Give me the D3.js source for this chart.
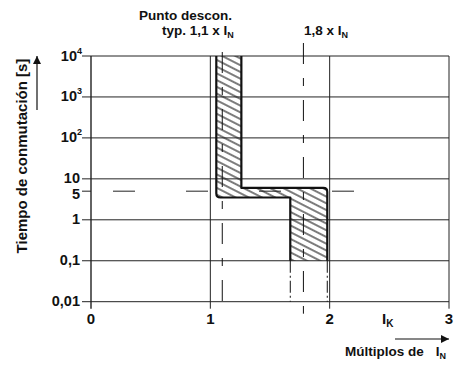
<!DOCTYPE html>
<html>
<head>
<meta charset="utf-8">
<script src="https://cdn.jsdelivr.net/npm/d3@7"></script>
<style>
	body { margin: 0; background: #fff; }
	text { font-family: "Liberation Sans", Arial, sans-serif; font-weight: bold; fill: #111; }
</style>
</head>
<body>
<div id="vis"></div>
<script>
const width = 462;
const height = 368;

// axis ticks
const xTicks = [0, 1, 2, 3];
const yTicks = [0.01, 0.1, 1, 10, 100, 1000, 10000];
const yTickLabels = ["0,01", "0,1", "1", "10", "10^2", "10^3", "10^4"];

// tripping band outline (multiples of I_N, seconds)
const bandX = [1.05, 1.05, 1.67, 1.67, 1.98, 1.98, 1.26, 1.26];
const bandY = [10000, 3.5, 3.5, 0.1, 0.1, 6, 6, 10000];
const roundedCorners = [1, 5]; // indices of rounded vertices

// reference lines
const markX = [1.1, 1.78];
const dashedTime = 5;
const bottomX = [1.67, 1.98];

const x = d3.scaleLinear().domain([0, 3]).range([91, 449]);
const y = d3.scaleLog().domain([0.01, 10000]).range([301.7, 56]);

const svg = d3.select("#vis")
	.append("svg")
	.attr("width", width)
	.attr("height", height);

const defs = svg.append("defs");
defs.append("pattern")
	.attr("id", "hatch")
	.attr("patternUnits", "userSpaceOnUse")
	.attr("width", 20)
	.attr("height", 6)
	.attr("patternTransform", "rotate(27)")
	.append("line")
		.attr("x1", 0).attr("y1", 3)
		.attr("x2", 20).attr("y2", 3)
		.attr("stroke", "#111")
		.attr("stroke-width", 1.1);

defs.append("marker")
	.attr("id", "arrow")
	.attr("viewBox", "0 0 10 10")
	.attr("refX", 10).attr("refY", 5)
	.attr("markerUnits", "userSpaceOnUse")
	.attr("markerWidth", 14).attr("markerHeight", 8)
	.attr("orient", "auto")
	.append("path")
		.attr("d", "M0,0L10,5L0,10Z")
		.attr("fill", "#111");

// hatched band
const pts = bandX.map((v, i) => [x(v), y(bandY[i])]);
function roundedPath(points, closed, offset) {
	let d = "";
	points.forEach((p, i) => {
		const k = i + (offset || 0);
		if (i === 0) { d += `M${p[0]},${p[1]}`; return; }
		if (roundedCorners.includes(k) && i < points.length - 1) {
			const prev = points[i - 1], next = points[i + 1];
			const r = 4;
			const dx1 = Math.sign(prev[0] - p[0]), dy1 = Math.sign(prev[1] - p[1]);
			const dx2 = Math.sign(next[0] - p[0]), dy2 = Math.sign(next[1] - p[1]);
			d += `L${p[0] + dx1 * r},${p[1] + dy1 * r}Q${p[0]},${p[1]} ${p[0] + dx2 * r},${p[1] + dy2 * r}`;
		} else {
			d += `L${p[0]},${p[1]}`;
		}
	});
	return closed ? d + "Z" : d;
}

svg.append("path")
	.attr("d", roundedPath(pts, true))
	.attr("fill", "url(#hatch)")
	.attr("stroke", "none");

// grid
const grid = svg.append("g").attr("stroke", "#222").attr("stroke-width", 1);
grid.selectAll("line.h")
	.data(yTicks)
	.enter()
	.append("line")
		.attr("x1", x(0) - 9).attr("x2", x(3))
		.attr("y1", d => y(d)).attr("y2", d => y(d));
grid.append("line")
	.attr("x1", x(0) - 9).attr("x2", x(0))
	.attr("y1", y(dashedTime)).attr("y2", y(dashedTime));
grid.selectAll("line.v")
	.data(xTicks)
	.enter()
	.append("line")
		.attr("x1", d => x(d)).attr("x2", d => x(d))
		.attr("y1", y(10000)).attr("y2", y(0.01) + 7)
		.attr("stroke-width", d => d === 0 ? 1.4 : 1);

// dashed 5 s line
svg.append("line")
	.attr("x1", x(0) - 9).attr("x2", x(2.52))
	.attr("y1", y(dashedTime)).attr("y2", y(dashedTime))
	.attr("stroke", "#222")
	.attr("stroke-dasharray", "0,31,22,20")
	.attr("stroke-width", 1);

// dashed continuation below band
svg.selectAll("line.bottom")
	.data(bottomX)
	.enter()
	.append("line")
		.attr("x1", d => x(d)).attr("x2", d => x(d))
		.attr("y1", y(0.1)).attr("y2", y(0.01))
		.attr("stroke", "#111")
		.attr("stroke-dasharray", "12,3,2,3")
		.attr("stroke-width", 1);

// dash-dot marker lines
svg.selectAll("line.mark")
	.data(markX)
	.enter()
	.append("line")
		.attr("x1", d => x(d)).attr("x2", d => x(d))
		.attr("y1", (d, i) => i === 0 ? y(10000) - 4 : y(10000) - 13)
		.attr("y2", y(0.01) + 12)
		.attr("stroke", "#111")
		.attr("stroke-dasharray", "21,14,8,14")
		.attr("stroke-width", 1);

// band outline (two open edges, top and bottom sit on grid lines)
svg.append("path")
	.attr("d", roundedPath(pts.slice(0, 4), false, 0) + roundedPath(pts.slice(4), false, 4))
	.attr("fill", "none")
	.attr("stroke", "#111")
	.attr("stroke-width", 2.2)
	.attr("stroke-linejoin", "round");

// y tick labels
const yl = svg.append("g").attr("font-size", 14.5).attr("text-anchor", "end");
yTicks.forEach((t, i) => {
	const lab = yTickLabels[i];
	const txt = yl.append("text").attr("x", x(0) - 11).attr("y", y(t) + 4.5);
	if (lab.includes("^")) {
		const [b, e] = lab.split("^");
		txt.append("tspan").text(b);
		txt.append("tspan").attr("font-size", 9).attr("dy", -7).text(e);
		txt.attr("x", x(0) - 9);
	} else {
		txt.text(lab);
	}
});
yl.append("text").attr("x", x(0) - 11).attr("y", y(dashedTime) + 7.5).text("5");

// x tick labels
svg.append("g").attr("font-size", 15).attr("text-anchor", "middle")
	.selectAll("text")
	.data(xTicks)
	.enter()
	.append("text")
		.attr("x", d => x(d))
		.attr("y", 324)
		.text(d => d);

function withSub(sel, main, sub, subSize, gap) {
	sel.append("tspan").text(main);
	if (gap) {
		sel.append("tspan").attr("dx", gap).text("I");
	}
	sel.append("tspan").attr("font-size", subSize).attr("dy", 3).text(sub);
}

withSub(svg.append("text").attr("x", 382).attr("y", 324).attr("font-size", 15), "I", "K", 10);

// headers
svg.append("text").attr("x", 139).attr("y", 19.5).attr("font-size", 13.5).text("Punto descon.");
withSub(svg.append("text").attr("x", 162).attr("y", 35).attr("font-size", 13.5), "typ. 1,1 x I", "N", 9);
withSub(svg.append("text").attr("x", 304).attr("y", 35).attr("font-size", 13.5), "1,8 x I", "N", 9);

// y axis title + arrow
svg.append("text")
	.attr("transform", "translate(27,156) rotate(-90)")
	.attr("text-anchor", "middle")
	.attr("font-size", 15)
	.text("Tiempo de conmutación [s]");
svg.append("line")
	.attr("x1", 37).attr("x2", 37)
	.attr("y1", 110).attr("y2", 56)
	.attr("stroke", "#111").attr("stroke-width", 1.2)
	.attr("marker-end", "url(#arrow)");

// x axis title + arrow
withSub(svg.append("text").attr("x", 345).attr("y", 356).attr("font-size", 13.5), "Múltiplos de", "N", 9, 12);
svg.append("line")
	.attr("x1", 395).attr("x2", x(3))
	.attr("y1", 339).attr("y2", 339)
	.attr("stroke", "#111").attr("stroke-width", 1.2)
	.attr("marker-end", "url(#arrow)");
</script>
</body>
</html>
